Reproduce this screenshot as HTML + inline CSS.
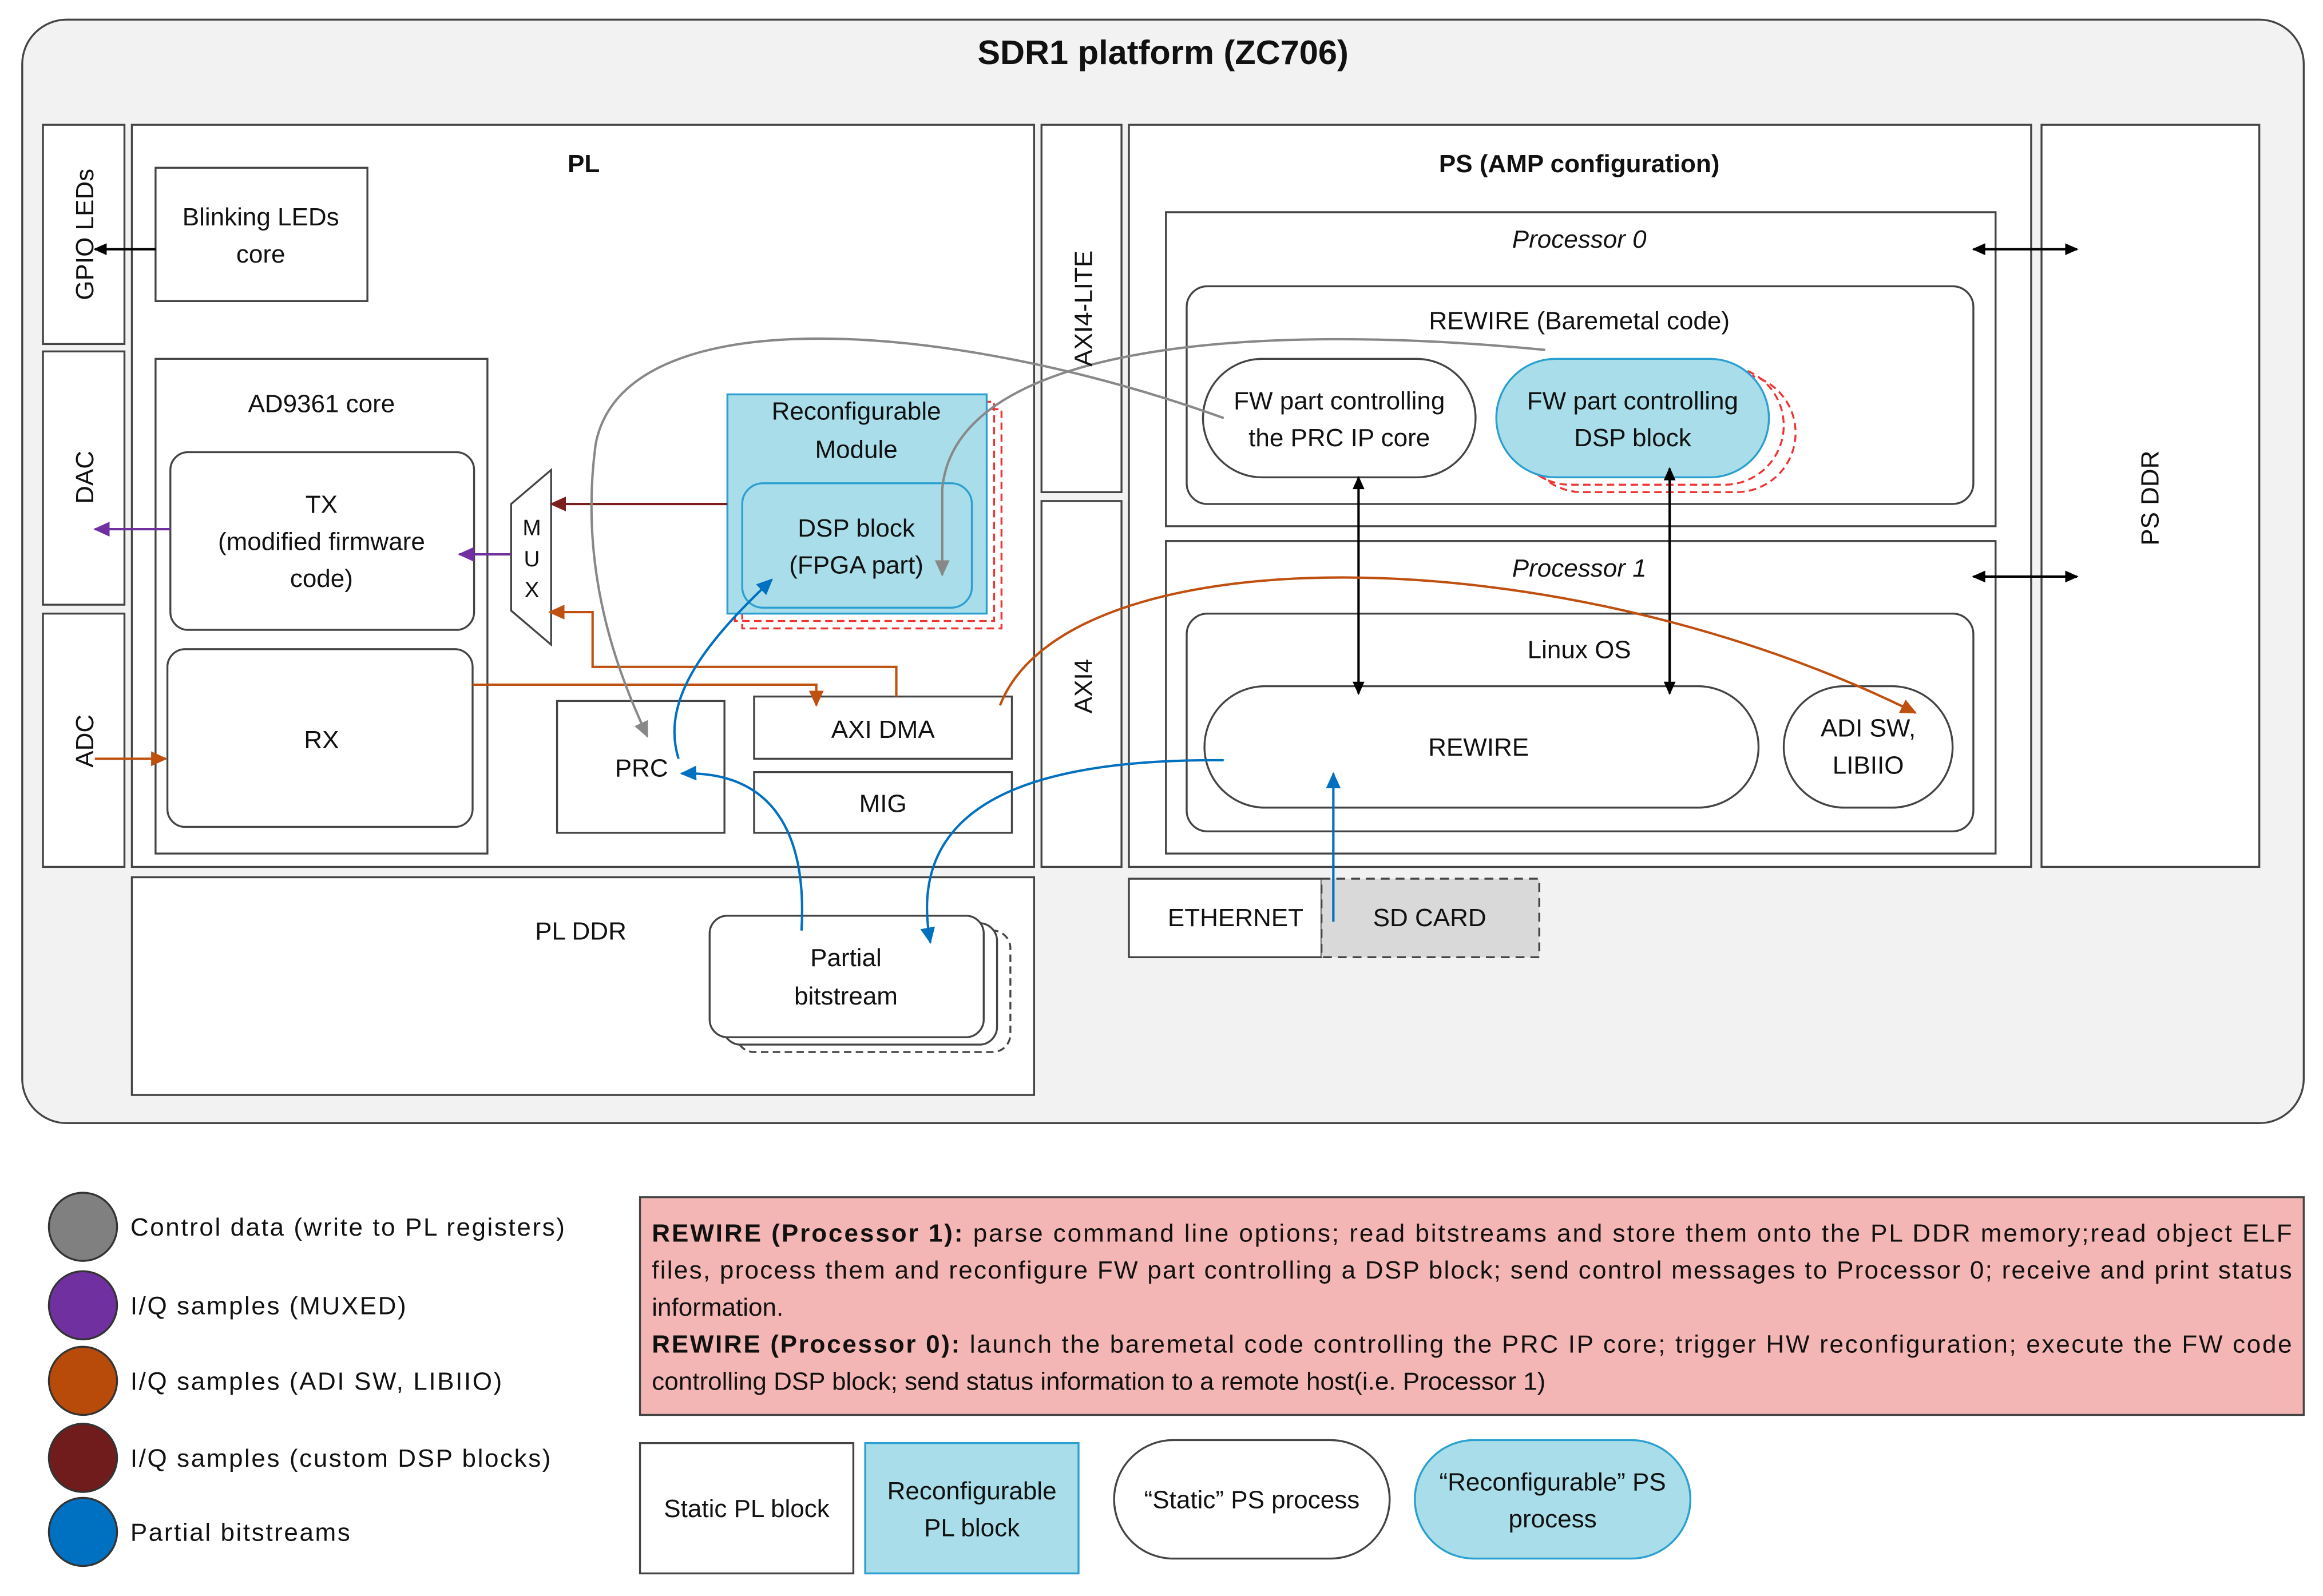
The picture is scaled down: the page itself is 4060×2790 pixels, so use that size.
<!DOCTYPE html>
<html><head><meta charset="utf-8"><style>
html,body{margin:0;padding:0;background:#fff}
svg{display:block}
text{font-family:"Liberation Sans",sans-serif;fill:#111}
</style></head><body>
<svg width="4060" height="2790" viewBox="0 0 1568 1077" xmlns="http://www.w3.org/2000/svg">
<defs>
<marker id="ak" markerWidth="10" markerHeight="10" refX="8" refY="5" orient="auto" markerUnits="userSpaceOnUse"><path d="M0,1 L9,5 L0,9 z" fill="#000"/></marker>
<marker id="ak2" markerWidth="10" markerHeight="10" refX="1" refY="5" orient="auto" markerUnits="userSpaceOnUse"><path d="M9,1 L0,5 L9,9 z" fill="#000"/></marker>
<marker id="ap" markerWidth="12" markerHeight="12" refX="10" refY="6" orient="auto" markerUnits="userSpaceOnUse"><path d="M0,1 L11,6 L0,11 z" fill="#7030a0"/></marker>
<marker id="ao" markerWidth="12" markerHeight="12" refX="10" refY="6" orient="auto" markerUnits="userSpaceOnUse"><path d="M0,1 L11,6 L0,11 z" fill="#c0500f"/></marker>
<marker id="ar" markerWidth="12" markerHeight="12" refX="10" refY="6" orient="auto" markerUnits="userSpaceOnUse"><path d="M0,1 L11,6 L0,11 z" fill="#7b1f1f"/></marker>
<marker id="ab" markerWidth="12" markerHeight="12" refX="10" refY="6" orient="auto" markerUnits="userSpaceOnUse"><path d="M0,1 L11,6 L0,11 z" fill="#0070c0"/></marker>
<marker id="ag" markerWidth="12" markerHeight="12" refX="10" refY="6" orient="auto" markerUnits="userSpaceOnUse"><path d="M0,1 L11,6 L0,11 z" fill="#888"/></marker>
</defs>
<g stroke="#444" stroke-width="1.3" fill="#fff">
<rect x="15" y="13" width="1540" height="745" rx="30" fill="#f2f2f2"/>
<rect x="29" y="84" width="55" height="148"/>
<rect x="29" y="237" width="55" height="171"/>
<rect x="29" y="414" width="55" height="171"/>
<rect x="89" y="84" width="609" height="501"/>
<rect x="105" y="113" width="143" height="90"/>
<rect x="105" y="242" width="224" height="334"/>
<rect x="115" y="305" width="205" height="120" rx="12"/>
<rect x="113" y="438" width="206" height="120" rx="12"/>
<path d="M345,340 L372,317 L372,435 L345,412 Z"/>
<rect x="501" y="276" width="175" height="148" fill="none" stroke="#e33" stroke-dasharray="5,3"/>
<rect x="496" y="271" width="175" height="148" fill="none" stroke="#e33" stroke-dasharray="5,3"/>
<rect x="491" y="266" width="175" height="148" fill="#a8dde9" stroke="#2a9fd0"/>
<rect x="501" y="326" width="155" height="84" rx="14" fill="#a8dde9" stroke="#2a9fd0"/>
<rect x="376" y="473" width="113" height="89"/>
<rect x="509" y="470" width="174" height="42"/>
<rect x="509" y="521" width="174" height="41"/>
<rect x="703" y="84" width="54" height="248"/>
<rect x="703" y="338" width="54" height="247"/>
<rect x="762" y="84" width="609" height="501"/>
<rect x="787" y="143" width="560" height="212"/>
<rect x="801" y="193" width="531" height="147" rx="14"/>
<rect x="812" y="242" width="184" height="80" rx="40"/>
<rect x="1028" y="252" width="184" height="80" rx="40" fill="none" stroke="#e33" stroke-dasharray="5,3"/>
<rect x="1020" y="247" width="184" height="80" rx="40" fill="none" stroke="#e33" stroke-dasharray="5,3"/>
<rect x="1010" y="242" width="184" height="80" rx="40" fill="#a8dde9" stroke="#2a9fd0"/>
<rect x="787" y="365" width="560" height="211"/>
<rect x="801" y="414" width="531" height="147" rx="14"/>
<rect x="813" y="463" width="374" height="82" rx="41"/>
<rect x="1204" y="463" width="114" height="82" rx="41"/>
<rect x="1378" y="84" width="147" height="501"/>
<rect x="89" y="592" width="609" height="147"/>
<rect x="497" y="628" width="185" height="82" rx="12" stroke-dasharray="5,3"/>
<rect x="488" y="623" width="185" height="82" rx="12"/>
<rect x="479" y="618" width="185" height="82" rx="12"/>
<rect x="762" y="593" width="130" height="53"/>
<rect x="892" y="593" width="147" height="53" fill="#d9d9d9" stroke-dasharray="6,4"/>
<rect x="432" y="808" width="1123" height="147" fill="#f4b6b4"/>
<rect x="432" y="974" width="144" height="88"/>
<rect x="584" y="974" width="144" height="88" fill="#a8dde9" stroke="#2a9fd0"/>
<rect x="752" y="972" width="186" height="80" rx="40"/>
<rect x="955" y="972" width="186" height="80" rx="40" fill="#a8dde9" stroke="#2a9fd0"/>
</g>
<g stroke="#333" stroke-width="1.3">
<circle cx="56" cy="828" r="23" fill="#808080"/>
<circle cx="56" cy="881" r="23" fill="#7030a0"/>
<circle cx="56" cy="932" r="23" fill="#b84a0a"/>
<circle cx="56" cy="984" r="23" fill="#701c1c"/>
<circle cx="56" cy="1034" r="23" fill="#0070c0"/>
</g>
<g fill="none" stroke-width="1.6">
<path d="M105,168 L64,168" stroke="#000" marker-end="url(#ak)"/>
<path d="M1332,168 L1402,168" stroke="#000" marker-end="url(#ak)" marker-start="url(#ak2)"/>
<path d="M1332,389 L1402,389" stroke="#000" marker-end="url(#ak)" marker-start="url(#ak2)"/>
<path d="M917,322 L917,468" stroke="#000" marker-end="url(#ak)" marker-start="url(#ak2)"/>
<path d="M1127,316 L1127,468" stroke="#000" marker-end="url(#ak)" marker-start="url(#ak2)"/>
<path d="M115,357 L64,357" stroke="#7030a0" marker-end="url(#ap)"/>
<path d="M345,374 L310,374" stroke="#7030a0" marker-end="url(#ap)"/>
<path d="M64,512 L112,512" stroke="#c0500f" marker-end="url(#ao)"/>
<path d="M319,462 L551,462 L551,476" stroke="#c0500f" marker-end="url(#ao)"/>
<path d="M605,470 L605,450 L400,450 L400,413 L371,413" stroke="#c0500f" marker-end="url(#ao)"/>
<path d="M675,476 C720,360 1050,360 1293,481" stroke="#c0500f" marker-end="url(#ao)"/>
<path d="M491,340 L372,340" stroke="#7b1f1f" marker-end="url(#ar)"/>
<path d="M826,282 C640,215 420,200 402,300 C390,390 420,460 437,497" stroke="#888" marker-end="url(#ag)"/>
<path d="M1043,236 C860,218 645,228 636,330 L636,388" stroke="#888" marker-end="url(#ag)"/>
<path d="M541,628 C545,560 520,520 460,522" stroke="#0070c0" marker-end="url(#ab)"/>
<path d="M458,512 C445,470 480,430 521,391" stroke="#0070c0" marker-end="url(#ab)"/>
<path d="M826,513 C700,512 610,540 628,636" stroke="#0070c0" marker-end="url(#ab)"/>
<path d="M900,622 L900,522" stroke="#0070c0" marker-end="url(#ab)"/>
</g>
<g font-size="17" text-anchor="middle">
<text x="785" y="43" font-size="23" font-weight="bold">SDR1 platform (ZC706)</text>
<text x="394" y="116" font-weight="bold">PL</text>
<text x="1066" y="116" font-weight="bold">PS (AMP configuration)</text>
<text transform="translate(63,158) rotate(-90)">GPIO LEDs</text>
<text transform="translate(63,322) rotate(-90)">DAC</text>
<text transform="translate(63,500) rotate(-90)">ADC</text>
<text transform="translate(737,208) rotate(-90)">AXI4-LITE</text>
<text transform="translate(737,463) rotate(-90)">AXI4</text>
<text transform="translate(1457,336) rotate(-90)">PS DDR</text>
<text x="176" y="152">Blinking LEDs</text>
<text x="176" y="177">core</text>
<text x="217" y="278">AD9361 core</text>
<text x="217" y="346">TX</text>
<text x="217" y="371">(modified firmware</text>
<text x="217" y="396">code)</text>
<text x="217" y="505">RX</text>
<text x="359" y="361" font-size="15">M</text>
<text x="359" y="382" font-size="15">U</text>
<text x="359" y="403" font-size="15">X</text>
<text x="578" y="283">Reconfigurable</text>
<text x="578" y="309">Module</text>
<text x="578" y="362">DSP block</text>
<text x="578" y="387">(FPGA part)</text>
<text x="433" y="524">PRC</text>
<text x="596" y="498">AXI DMA</text>
<text x="596" y="548">MIG</text>
<text x="1066" y="167" font-style="italic">Processor 0</text>
<text x="1066" y="222">REWIRE (Baremetal code)</text>
<text x="904" y="276">FW part controlling</text>
<text x="904" y="301">the PRC IP core</text>
<text x="1102" y="276">FW part controlling</text>
<text x="1102" y="301">DSP block</text>
<text x="1066" y="389" font-style="italic">Processor 1</text>
<text x="1066" y="444">Linux OS</text>
<text x="998" y="510">REWIRE</text>
<text x="1261" y="497">ADI SW,</text>
<text x="1261" y="522">LIBIIO</text>
<text x="392" y="634">PL DDR</text>
<text x="571" y="652">Partial</text>
<text x="571" y="678">bitstream</text>
<text x="834" y="625">ETHERNET</text>
<text x="965" y="625">SD CARD</text>
<text x="504" y="1024">Static PL block</text>
<text x="656" y="1012">Reconfigurable</text>
<text x="656" y="1037">PL block</text>
<text x="845" y="1018">“Static” PS process</text>
<text x="1048" y="1006">“Reconfigurable” PS</text>
<text x="1048" y="1031">process</text>
</g>
<g font-size="17">
<text x="88" y="834" letter-spacing="1">Control data (write to PL registers)</text>
<text x="88" y="887" letter-spacing="1">I/Q samples (MUXED)</text>
<text x="88" y="938" letter-spacing="1">I/Q samples (ADI SW, LIBIIO)</text>
<text x="88" y="990" letter-spacing="1">I/Q samples (custom DSP blocks)</text>
<text x="88" y="1040" letter-spacing="1">Partial bitstreams</text>
<text x="440" y="838" textLength="1107" lengthAdjust="spacing"><tspan font-weight="bold">REWIRE (Processor 1):</tspan> parse command line options; read bitstreams and store them onto the PL DDR memory;read object ELF</text>
<text x="440" y="863" textLength="1107" lengthAdjust="spacing">files, process them and reconfigure FW part controlling a DSP block; send control messages to Processor 0; receive and print status</text>
<text x="440" y="888">information.</text>
<text x="440" y="913" textLength="1107" lengthAdjust="spacing"><tspan font-weight="bold">REWIRE (Processor 0):</tspan> launch the baremetal code controlling the PRC IP core; trigger HW reconfiguration; execute the FW code</text>
<text x="440" y="938">controlling DSP block; send status information to a remote host(i.e. Processor 1)</text>
</g>
</svg>
</body></html>
